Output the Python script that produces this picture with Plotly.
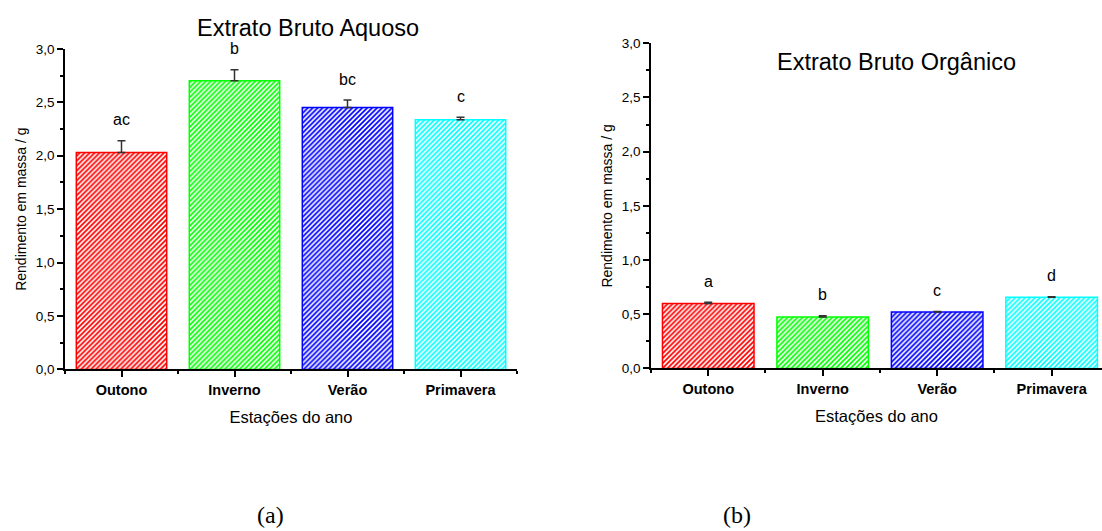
import plotly.graph_objects as go

# Seasons and mass yields (g) for the two crude extracts
seasons = ["Outono", "Inverno", "Verão", "Primavera"]
aquoso_mean = [2.03, 2.70, 2.45, 2.335]
aquoso_err = [0.11, 0.105, 0.07, 0.025]
aquoso_letters = ["ac", "b", "bc", "c"]

organico_mean = [0.60, 0.475, 0.52, 0.657]
organico_err = [0.012, 0.012, 0.005, 0.005]
organico_letters = ["a", "b", "c", "d"]

bar_colors = ["#FF0000", "#00FF00", "#0000FF", "#00FFFF"]

W, H = 1102, 531
FONT = "Liberation Sans"
SERIF = "Liberation Serif"


def px_x(p):
    return p / W


def px_y(p):
    return 1 - p / H


fig = go.Figure()

xpos = [1, 2, 3, 4]


def add_bars(means, errs, xa, ya):
    fig.add_trace(go.Bar(
        x=xpos, y=means, width=0.8,
        xaxis=xa, yaxis=ya,
        marker=dict(
            color="white",
            line=dict(color=bar_colors, width=1.5),
            pattern=dict(shape="/", fgcolor=bar_colors, bgcolor="white",
                         size=3.5, solidity=0.5, fillmode="replace"),
        ),
        error_y=dict(type="data", symmetric=False, array=errs,
                     arrayminus=[0] * len(errs), color="#333333",
                     thickness=1.5, width=4),
        showlegend=False,
    ))


add_bars(aquoso_mean, aquoso_err, "x", "y")
add_bars(organico_mean, organico_err, "x2", "y2")

# significance letters above each error bar
for xa, ya, means, errs, letters in [
    ("x", "y", aquoso_mean, aquoso_err, aquoso_letters),
    ("x2", "y2", organico_mean, organico_err, organico_letters),
]:
    for xi, m, e, t in zip(xpos, means, errs, letters):
        fig.add_annotation(x=xi, y=m + e, xref=xa, yref=ya, text=t,
                           showarrow=False, yanchor="middle", yshift=21,
                           font=dict(family=FONT, size=16, color="black"))

xaxis_common = dict(
    tickmode="array", tickvals=xpos, ticktext=seasons,
    ticks="outside", ticklen=6, tickwidth=1.5, tickcolor="black",
    tickfont=dict(family=FONT, size=14.5, color="black", weight="bold"),
    showline=True, linecolor="black", linewidth=1.5,
    showgrid=False, zeroline=False,
    minor=dict(tickmode="linear", tick0=0.5, dtick=1, ticks="outside",
               ticklen=3, tickwidth=1.5, tickcolor="black", showgrid=False),
    title=dict(text="Estações do ano", standoff=15,
               font=dict(family=FONT, size=16.5, color="black")),
    fixedrange=True,
)
yaxis_common = dict(
    range=[0, 3], dtick=0.5, tick0=0, tickformat=".1f",
    ticks="outside", ticklen=6, tickwidth=1.5, tickcolor="black",
    tickfont=dict(family=FONT, size=13.5, color="black"),
    showline=True, linecolor="black", linewidth=1.5,
    showgrid=False, zeroline=False,
    minor=dict(dtick=0.25, ticks="outside", ticklen=3, tickwidth=1.5,
               tickcolor="black", showgrid=False),
    title=dict(text="Rendimento em massa / g", standoff=6,
               font=dict(family=FONT, size=14, color="black")),
    fixedrange=True,
)

fig.update_layout(
    width=W, height=H,
    margin=dict(l=0, r=0, t=0, b=0),
    paper_bgcolor="white", plot_bgcolor="white",
    separators=",.",
    bargap=0.2,
    xaxis=dict(xaxis_common, domain=[px_x(65), px_x(517)], range=[0.5, 4.5],
               anchor="y"),
    yaxis=dict(yaxis_common, domain=[px_y(373), px_y(43)], anchor="x"),
    xaxis2=dict(xaxis_common, domain=[px_x(651), 1.0], range=[0.5, 4.44],
                anchor="y2"),
    yaxis2=dict(yaxis_common, domain=[px_y(372), px_y(37.3)], anchor="x2"),
)

# chart titles and panel captions
fig.add_annotation(x=px_x(308), y=px_y(22), xref="paper", yref="paper",
                   text="Extrato Bruto Aquoso", showarrow=False,
                   xanchor="center", yanchor="middle",
                   font=dict(family=FONT, size=23.5, color="black"))
fig.add_annotation(x=px_x(896), y=px_y(57), xref="paper", yref="paper",
                   text="Extrato Bruto Orgânico", showarrow=False,
                   xanchor="center", yanchor="middle",
                   font=dict(family=FONT, size=23.5, color="black"))
for label, cx in [("(a)", 270), ("(b)", 737)]:
    fig.add_annotation(x=px_x(cx), y=px_y(523), xref="paper", yref="paper",
                       text=label, showarrow=False,
                       xanchor="center", yanchor="middle",
                       font=dict(family=SERIF, size=24, color="black"))

fig.write_html("out.html")
